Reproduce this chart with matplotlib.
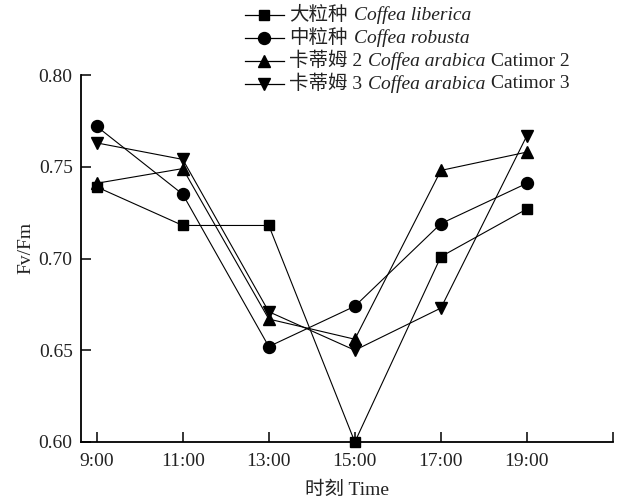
import matplotlib
matplotlib.use("Agg")
import matplotlib.pyplot as plt
from matplotlib.lines import Line2D
from matplotlib.offsetbox import DrawingArea, TextArea, HPacker, AnchoredOffsetbox

# Sampling hours and Fv/Fm readings for each coffee variety
hours = [9, 11, 13, 15, 17, 19]
tick_labels = ["9:00", "11:00", "13:00", "15:00", "17:00", "19:00"]
liberica = [0.739, 0.718, 0.718, 0.600, 0.701, 0.727]
robusta = [0.772, 0.735, 0.652, 0.674, 0.719, 0.741]
catimor2 = [0.741, 0.749, 0.667, 0.656, 0.748, 0.758]
catimor3 = [0.763, 0.754, 0.671, 0.650, 0.673, 0.767]

names_cn = ["大粒种", "中粒种", "卡蒂姆 2", "卡蒂姆 3"]
names_it = ["Coffea liberica", "Coffea robusta", "Coffea arabica", "Coffea arabica"]
names_tail = ["", "", "Catimor 2", "Catimor 3"]

SERIF = "Liberation Serif"
MIXED = ["Liberation Serif", "Noto Sans CJK SC"]
TXT = "#222222"
FS = 14

series = [liberica, robusta, catimor2, catimor3]
markers = ["s", "o", "^", "v"]
msizes = [7.6, 8.6, 9.0, 9.0]

W, H = 617, 499
fig = plt.figure(figsize=(W / 100, H / 100), dpi=100)
ax = fig.add_axes([81 / W, (H - 442) / H, 532 / W, 367 / H])

for vals, m, ms in zip(series, markers, msizes):
    ax.plot(hours, vals, color="black", lw=0.8, marker=m, ms=ms,
            markerfacecolor="black", markeredgecolor="black", clip_on=False, zorder=3)

ax.set_ylim(0.60, 0.80)
ax.set_xlim(8.635, 21)
ax.set_yticks([0.60, 0.65, 0.70, 0.75, 0.80])
ax.set_yticklabels(["0.60", "0.65", "0.70", "0.75", "0.80"])
ax.set_xticks(hours + [21])
ax.set_xticklabels(tick_labels + [""])

for s in ["top", "right"]:
    ax.spines[s].set_visible(False)
for s in ["left", "bottom"]:
    ax.spines[s].set_linewidth(1.3)

ax.tick_params(direction="in", length=7, width=1.1, labelsize=FS, labelcolor=TXT)
ax.tick_params(axis="x", pad=8)
ax.tick_params(axis="y", pad=6)
for lab in ax.get_xticklabels() + ax.get_yticklabels():
    lab.set_fontfamily(SERIF)

ax.set_ylabel("Fv/Fm", fontfamily=SERIF, fontsize=FS, color=TXT)
ax.yaxis.set_label_coords(-0.088, 0.53)
ax.set_xlabel("时刻 Time", fontfamily=MIXED, fontsize=FS, color=TXT, labelpad=8)

# Legend rows built from mixed upright / italic text pieces
row_y = [15, 38, 61, 84]
for y, m, ms, cn, it, tail in zip(row_y, markers, msizes, names_cn, names_it, names_tail):
    da = DrawingArea(28, 12, 0, 0)
    da.add_artist(Line2D([0, 28], [6, 6], color="black", lw=0.9))
    da.add_artist(Line2D([14], [6], color="black", marker=m, ms=ms,
                         markerfacecolor="black", markeredgecolor="black"))
    parts = [da,
             TextArea(cn, textprops=dict(fontfamily=MIXED, fontsize=FS, color=TXT)),
             TextArea(it, textprops=dict(fontfamily=SERIF, fontstyle="italic",
                                         fontsize=FS, color=TXT))]
    if tail:
        parts.append(TextArea(tail, textprops=dict(fontfamily=SERIF, fontsize=FS, color=TXT)))
    row = HPacker(children=parts, align="center", pad=0, sep=4)
    box = AnchoredOffsetbox(loc="center left", child=row, frameon=False, pad=0, borderpad=0,
                            bbox_to_anchor=(245 / W, 1 - y / H),
                            bbox_transform=fig.transFigure)
    fig.add_artist(box)

fig.savefig("out.png", dpi=100)
